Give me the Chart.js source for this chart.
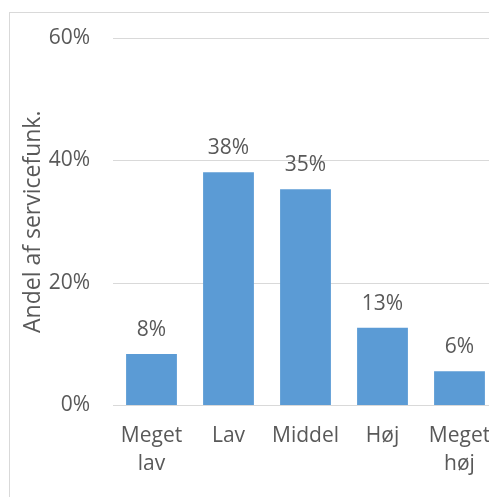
<!DOCTYPE html>
<html>
<head>
<meta charset="utf-8">
<script src="https://cdn.jsdelivr.net/npm/chart.js@4/dist/chart.umd.min.js"></script>
<style>
  html, body { margin: 0; padding: 0; background: #fff; overflow: hidden; }
  #frame {
    position: absolute; left: 9px; top: 12px;
    width: 500px; height: 490px;
    border-left: 1px solid #d9d9d9;
    border-top: 1px solid #d9d9d9;
  }
</style>
</head>
<body>
<div id="frame"><canvas id="chart"></canvas></div>
<script>
'use strict';

// categories and values (share in %)
let categories = [['Meget', 'lav'], 'Lav', 'Middel', 'Høj', ['Meget', 'høj']];
let shares = [8.4, 38.1, 35.3, 12.7, 5.6];
let yTicks = [0, 20, 40, 60];
let yTitle = 'Andel af servicefunk.';

const textColor = '#595959';
const gridColor = '#d9d9d9';
Chart.defaults.font.family = '"Open Sans", sans-serif';

// draws the rounded percent above each bar
const barLabels = {
  id: 'barLabels',
  afterDatasetsDraw(chart) {
    let ctx = chart.ctx;
    let meta = chart.getDatasetMeta(0);
    ctx.save();
    ctx.font = '21px "Open Sans", sans-serif';
    ctx.fillStyle = textColor;
    ctx.textAlign = 'center';
    ctx.textBaseline = 'alphabetic';
    meta.data.forEach(function(bar, i) {
      ctx.fillText(Math.round(shares[i]) + '%', bar.x, bar.y - 18);
    });
    ctx.restore();
  }
};

new Chart(document.getElementById('chart'), {
  type: 'bar',
  data: {
    labels: categories,
    datasets: [{
      data: shares,
      backgroundColor: '#5b9bd5',
      borderWidth: 0,
      categoryPercentage: 1,
      barPercentage: 0.66
    }]
  },
  options: {
    responsive: true,
    maintainAspectRatio: false,
    animation: false,
    events: [],
    layout: { padding: { top: 25, right: 12, bottom: 0, left: 0 } },
    plugins: { legend: { display: false }, tooltip: { enabled: false } },
    scales: {
      x: {
        grid: { display: false, drawTicks: false },
        border: { display: false },
        ticks: {
          color: textColor,
          padding: 17,
          maxRotation: 0,
          autoSkip: false,
          font: { size: 21, lineHeight: 1.33 }
        },
        afterFit(scale) { scale.height = 97.5; }
      },
      y: {
        min: 0,
        max: 60,
        afterBuildTicks(scale) {
          scale.ticks = yTicks.map(function(v) { return { value: v }; });
        },
        grid: { color: gridColor, lineWidth: 1, drawTicks: false },
        border: { display: false },
        ticks: {
          color: textColor,
          padding: 23,
          font: { size: 21 },
          callback: function(v) { return v + '%'; }
        },
        title: {
          display: true,
          text: yTitle,
          color: textColor,
          font: { size: 23 },
          padding: { top: 10, bottom: 0 }
        },
        afterFit(scale) {
          scale.width = 103;
          scale.paddingTop = 13;
          scale.paddingBottom = 13;
        }
      }
    }
  },
  plugins: [barLabels]
});
</script>
</body>
</html>
